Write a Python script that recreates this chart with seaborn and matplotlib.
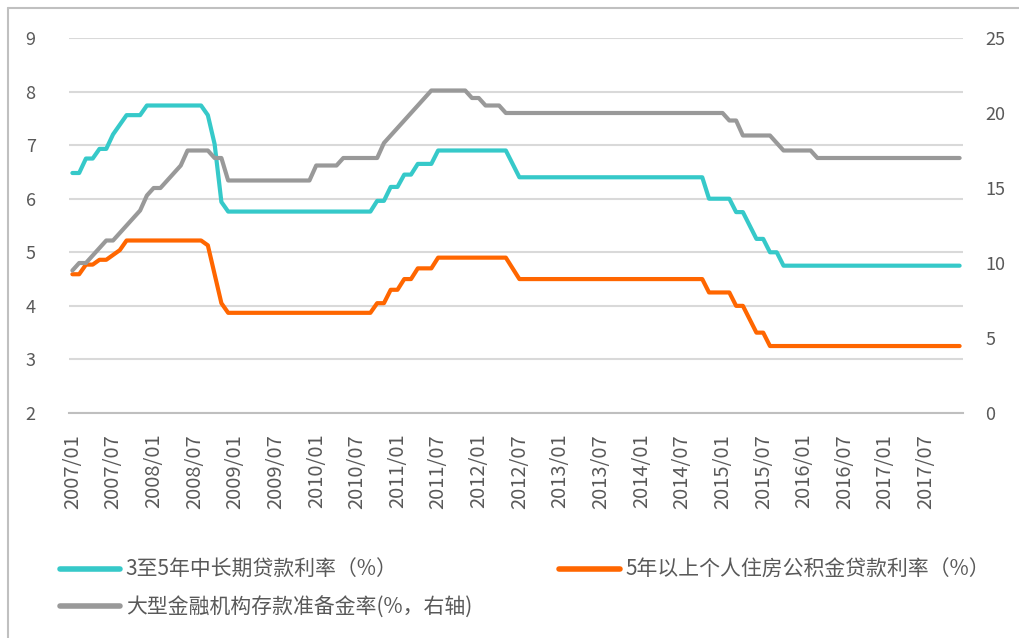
import numpy as np
import pandas as pd
import matplotlib
matplotlib.use("Agg")
import matplotlib.pyplot as plt
import seaborn as sns
from matplotlib.lines import Line2D

# 月份 2007/01 - 2017/12
months = [f"{y}/{m:02d}" for y in range(2007, 2018) for m in range(1, 13)]
tick_labels = months[::6]

# 3至5年中长期贷款利率（%）
loan_3_5 = [
    6.48, 6.48, 6.75, 6.75, 6.93, 6.93, 7.20, 7.38, 7.56, 7.56, 7.56, 7.74,  # 2007
    7.74, 7.74, 7.74, 7.74, 7.74, 7.74, 7.74, 7.74, 7.56, 7.02, 5.94, 5.76,  # 2008
    5.76, 5.76, 5.76, 5.76, 5.76, 5.76, 5.76, 5.76, 5.76, 5.76, 5.76, 5.76,  # 2009
    5.76, 5.76, 5.76, 5.76, 5.76, 5.76, 5.76, 5.76, 5.76, 5.96, 5.96, 6.22,  # 2010
    6.22, 6.45, 6.45, 6.65, 6.65, 6.65, 6.90, 6.90, 6.90, 6.90, 6.90, 6.90,  # 2011
    6.90, 6.90, 6.90, 6.90, 6.90, 6.65, 6.40, 6.40, 6.40, 6.40, 6.40, 6.40,  # 2012
    6.40, 6.40, 6.40, 6.40, 6.40, 6.40, 6.40, 6.40, 6.40, 6.40, 6.40, 6.40,  # 2013
    6.40, 6.40, 6.40, 6.40, 6.40, 6.40, 6.40, 6.40, 6.40, 6.40, 6.00, 6.00,  # 2014
    6.00, 6.00, 5.75, 5.75, 5.50, 5.25, 5.25, 5.00, 5.00, 4.75, 4.75, 4.75,  # 2015
    4.75, 4.75, 4.75, 4.75, 4.75, 4.75, 4.75, 4.75, 4.75, 4.75, 4.75, 4.75,  # 2016
    4.75, 4.75, 4.75, 4.75, 4.75, 4.75, 4.75, 4.75, 4.75, 4.75, 4.75, 4.75,  # 2017
]

# 5年以上个人住房公积金贷款利率（%）
fund_5 = [
    4.59, 4.59, 4.77, 4.77, 4.86, 4.86, 4.95, 5.04, 5.22, 5.22, 5.22, 5.22,
    5.22, 5.22, 5.22, 5.22, 5.22, 5.22, 5.22, 5.22, 5.13, 4.59, 4.05, 3.87,
    3.87, 3.87, 3.87, 3.87, 3.87, 3.87, 3.87, 3.87, 3.87, 3.87, 3.87, 3.87,
    3.87, 3.87, 3.87, 3.87, 3.87, 3.87, 3.87, 3.87, 3.87, 4.05, 4.05, 4.30,
    4.30, 4.50, 4.50, 4.70, 4.70, 4.70, 4.90, 4.90, 4.90, 4.90, 4.90, 4.90,
    4.90, 4.90, 4.90, 4.90, 4.90, 4.70, 4.50, 4.50, 4.50, 4.50, 4.50, 4.50,
    4.50, 4.50, 4.50, 4.50, 4.50, 4.50, 4.50, 4.50, 4.50, 4.50, 4.50, 4.50,
    4.50, 4.50, 4.50, 4.50, 4.50, 4.50, 4.50, 4.50, 4.50, 4.50, 4.25, 4.25,
    4.25, 4.25, 4.00, 4.00, 3.75, 3.50, 3.50, 3.25, 3.25, 3.25, 3.25, 3.25,
    3.25, 3.25, 3.25, 3.25, 3.25, 3.25, 3.25, 3.25, 3.25, 3.25, 3.25, 3.25,
    3.25, 3.25, 3.25, 3.25, 3.25, 3.25, 3.25, 3.25, 3.25, 3.25, 3.25, 3.25,
]

# 大型金融机构存款准备金率(%，右轴)
rrr_large = [
    9.5, 10.0, 10.0, 10.5, 11.0, 11.5, 11.5, 12.0, 12.5, 13.0, 13.5, 14.5,
    15.0, 15.0, 15.5, 16.0, 16.5, 17.5, 17.5, 17.5, 17.5, 17.0, 17.0, 15.5,
    15.5, 15.5, 15.5, 15.5, 15.5, 15.5, 15.5, 15.5, 15.5, 15.5, 15.5, 15.5,
    16.5, 16.5, 16.5, 16.5, 17.0, 17.0, 17.0, 17.0, 17.0, 17.0, 18.0, 18.5,
    19.0, 19.5, 20.0, 20.5, 21.0, 21.5, 21.5, 21.5, 21.5, 21.5, 21.5, 21.0,
    21.0, 20.5, 20.5, 20.5, 20.0, 20.0, 20.0, 20.0, 20.0, 20.0, 20.0, 20.0,
    20.0, 20.0, 20.0, 20.0, 20.0, 20.0, 20.0, 20.0, 20.0, 20.0, 20.0, 20.0,
    20.0, 20.0, 20.0, 20.0, 20.0, 20.0, 20.0, 20.0, 20.0, 20.0, 20.0, 20.0,
    20.0, 19.5, 19.5, 18.5, 18.5, 18.5, 18.5, 18.5, 18.0, 17.5, 17.5, 17.5,
    17.5, 17.5, 17.0, 17.0, 17.0, 17.0, 17.0, 17.0, 17.0, 17.0, 17.0, 17.0,
    17.0, 17.0, 17.0, 17.0, 17.0, 17.0, 17.0, 17.0, 17.0, 17.0, 17.0, 17.0,
]

names = ["3至5年中长期贷款利率（%）", "5年以上个人住房公积金贷款利率（%）", "大型金融机构存款准备金率(%，右轴)"]
colors = ["#36C9C9", "#FF6600", "#999999"]
text_color = "#595959"
grid_color = "#D9D9D9"

sns.set_style("white")
plt.rcParams['font.family'] = ['Noto Sans CJK SC', 'DejaVu Sans']

df = pd.DataFrame({"idx": np.arange(len(months)), "月份": months,
                   "loan": loan_3_5, "fund": fund_5, "rrr": rrr_large})

W, H = 1020, 638
fig = plt.figure(figsize=(W / 100, H / 100), dpi=100)
ax = fig.add_axes([69 / W, 1 - 413 / H, (963 - 69) / W, (413 - 38) / H])
ax2 = ax.twinx()

sns.lineplot(data=df, x="idx", y="loan", ax=ax, color=colors[0], lw=3, legend=False)
sns.lineplot(data=df, x="idx", y="fund", ax=ax, color=colors[1], lw=3, legend=False)
sns.lineplot(data=df, x="idx", y="rrr", ax=ax2, color=colors[2], lw=3, legend=False)

# 左轴
ax.set_ylim(2, 9)
ax.set_yticks(range(2, 10))
ax.tick_params(axis='y', length=0, pad=24, labelsize=13, labelcolor=text_color)
ax.yaxis.grid(True, color=grid_color, lw=1.5)
ax.xaxis.grid(False)
ax.set_xlabel("")
ax.set_ylabel("")

# 右轴
ax2.set_ylim(0, 25)
ax2.set_yticks(range(0, 30, 5))
ax2.tick_params(axis='y', length=0, pad=16, labelsize=13, labelcolor=text_color)
ax2.grid(False)
ax2.set_ylabel("")

# 横轴
ax.set_xlim(-0.5, len(months) - 0.5)
ax.set_xticks(range(0, len(months), 6))
ax.set_xticklabels(tick_labels, rotation=90)
ax.tick_params(axis='x', which='major', length=0, pad=15, labelsize=14.5, labelcolor=text_color)
ax.set_xticks(np.arange(-0.5, len(months), 6), minor=True)
ax.tick_params(axis='x', which='minor', length=6, width=1.5, color="#BFBFBF")

for a in (ax, ax2):
    for s in a.spines.values():
        s.set_visible(False)
ax.spines['bottom'].set_visible(True)
ax.spines['bottom'].set_color("#BFBFBF")
ax.spines['bottom'].set_linewidth(1.5)

# 图例
handles = [Line2D([], [], color=colors[0], lw=4),
           Line2D([], [], color=colors[2], lw=4),
           Line2D([], [], color=colors[1], lw=4)]
labels = [names[0], names[2], names[1]]
leg = fig.legend(handles, labels, loc='upper left', bbox_to_anchor=(60 / W, 1 - 559 / H),
                 ncol=2, frameon=False, borderaxespad=0, borderpad=0,
                 handlelength=2.9, handletextpad=0.25, columnspacing=4.2,
                 labelspacing=0.75, prop={'size': 15})
for t in leg.get_texts():
    t.set_color(text_color)

# 外框
fig.add_artist(Line2D([8 / W, 8 / W], [0, 1 - 8 / H], transform=fig.transFigure, color="#C0C0C0", lw=1.5))
fig.add_artist(Line2D([8 / W, 1], [1 - 8 / H, 1 - 8 / H], transform=fig.transFigure, color="#C0C0C0", lw=1.5))

fig.savefig("out.png", dpi=100)
